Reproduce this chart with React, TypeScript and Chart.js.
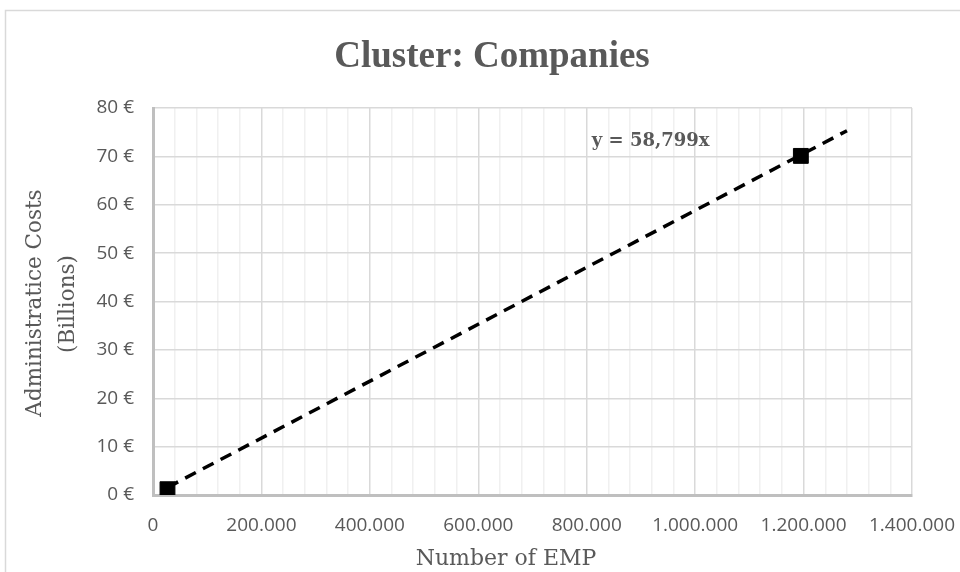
import React, { useEffect, useRef } from "react";
import { Chart, registerables } from "chart.js";

Chart.register(...registerables);

const TITLE = "Cluster: Companies";
const X_TITLE = "Number of EMP";
const Y_TITLE_LINES = ["Administratice Costs", "(Billions)"];
const TREND_LABEL = "y = 58,799x";

const empValues = [26700, 1195000];
const costValues = [1.2, 70.1];

const trendX = [26700, 1280000];
const trendY = [1.57, 75.3];

const labelAt = { x: 918000, y: 73.2 };

const xMin = 0, xMax = 1400000, xMinorStep = 40000, xMajorStep = 200000;
const yMin = 0, yMax = 80, yStep = 10;

const fmtThousands = (v: number) => String(Math.round(v)).replace(/\B(?=(\d{3})+(?!\d))/g, ".");

const GREY = "#595959";
const SERIF = "'DejaVu Serif', 'Liberation Serif', serif";

const textPlugin = {
  id: "texts",
  beforeDraw(chart: any) {
    const ctx = chart.ctx;
    ctx.save();
    ctx.fillStyle = "#ffffff";
    ctx.fillRect(0, 0, chart.width, chart.height);
    ctx.strokeStyle = "#d9d9d9";
    ctx.lineWidth = 1.5;
    ctx.beginPath();
    ctx.moveTo(5.5, chart.height);
    ctx.lineTo(5.5, 10.5);
    ctx.lineTo(chart.width, 10.5);
    ctx.stroke();
    ctx.restore();
  },
  afterDraw(chart: any) {
    const ctx = chart.ctx;
    const xs = chart.scales.x, ys = chart.scales.y;
    ctx.save();
    ctx.fillStyle = GREY;
    ctx.textAlign = "center";
    ctx.textBaseline = "middle";
    ctx.font = "bold 37px 'Liberation Serif', 'DejaVu Serif', serif";
    ctx.fillText(TITLE, 492, 57);
    ctx.font = `22px ${SERIF}`;
    ctx.fillText(X_TITLE, 506, 559);
    ctx.font = `21.5px ${SERIF}`;
    ctx.save();
    ctx.translate(35, 303);
    ctx.rotate(-Math.PI / 2);
    ctx.fillText(Y_TITLE_LINES[0], 0, 0);
    ctx.restore();
    ctx.save();
    ctx.translate(68, 304);
    ctx.rotate(-Math.PI / 2);
    ctx.fillText(Y_TITLE_LINES[1], 0, 0);
    ctx.restore();
    ctx.font = `bold 18px ${SERIF}`;
    ctx.fillText(TREND_LABEL, xs.getPixelForValue(labelAt.x), ys.getPixelForValue(labelAt.y));
    ctx.restore();
  },
};

export default function App() {
  const ref = useRef<HTMLCanvasElement>(null);
  useEffect(() => {
    document.body.style.margin = "0";
    const chart = new Chart(ref.current!, {
      type: "scatter",
      data: {
        datasets: [
          {
            type: "line",
            data: trendX.map((x, i) => ({ x, y: trendY[i] })),
            borderColor: "#000000",
            borderWidth: 3.5,
            borderDash: [12, 8],
            pointRadius: 0,
            fill: false,
            order: 2,
          },
          {
            data: empValues.map((x, i) => ({ x, y: costValues[i] })),
            pointStyle: "rect",
            pointRadius: 10.5,
            backgroundColor: "#000000",
            borderColor: "#000000",
            order: 1,
          },
        ],
      },
      plugins: [textPlugin],
      options: {
        animation: false,
        responsive: false,
        devicePixelRatio: 1,
        layout: { padding: { left: 0, top: 108, right: 48, bottom: 0 } },
        plugins: { legend: { display: false }, tooltip: { enabled: false }, title: { display: false } },
        scales: {
          x: {
            type: "linear",
            min: xMin,
            max: xMax,
            afterFit: (s: any) => {
              s.height = 77;
              s.paddingLeft = 0;
              s.paddingRight = 0;
            },
            afterBuildTicks: (s: any) => {
              const t = [];
              for (let v = xMin; v <= xMax; v += xMinorStep) t.push({ value: v });
              s.ticks = t;
            },
            ticks: {
              autoSkip: false,
              maxRotation: 0,
              padding: 19,
              color: GREY,
              font: { family: "'Open Sans', 'Liberation Sans', sans-serif", size: 19 },
              callback: (v: any) => (Number(v) % xMajorStep === 0 ? fmtThousands(Number(v)) : ""),
            },
            grid: {
              color: (c: any) => (c.tick && c.tick.value % xMajorStep === 0 ? "#d9d9d9" : "#f0f0f0"),
              lineWidth: 1.5,
              drawTicks: false,
            },
            border: { color: "#bfbfbf", width: 3 },
          },
          y: {
            type: "linear",
            min: yMin,
            max: yMax,
            afterFit: (s: any) => {
              s.width = 153;
              s.paddingTop = 0;
              s.paddingBottom = 0;
            },
            ticks: {
              stepSize: yStep,
              padding: 19,
              color: GREY,
              font: { family: "'Open Sans', 'Liberation Sans', sans-serif", size: 19 },
              callback: (v: any) => `${v} €`,
            },
            grid: { color: "#d9d9d9", lineWidth: 1.5, drawTicks: false },
            border: { color: "#bfbfbf", width: 3 },
          },
        },
      },
    } as any);
    return () => chart.destroy();
  }, []);
  return <canvas ref={ref} width={960} height={572} style={{ display: "block" }} />;
}
